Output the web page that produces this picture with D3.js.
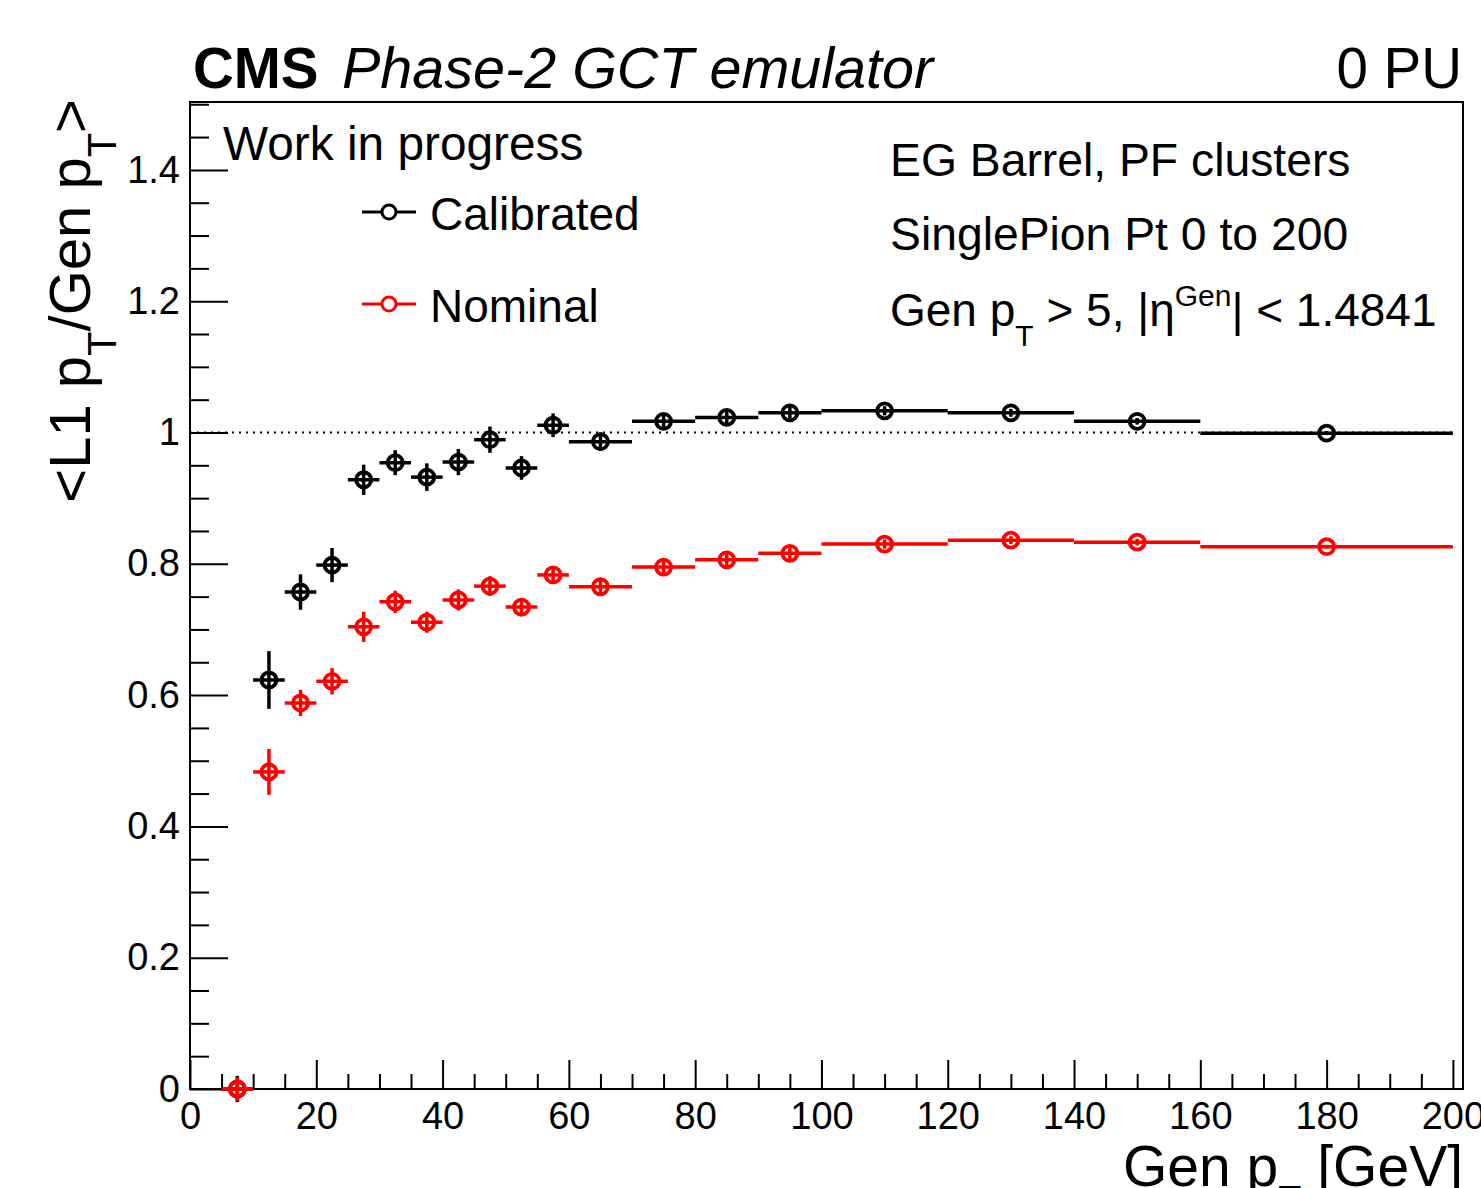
<!DOCTYPE html>
<html>
<head>
<meta charset="utf-8">
<script src="https://cdn.jsdelivr.net/npm/d3@7"></script>
<style>
  html, body { margin: 0; padding: 0; background: #fff; }
  svg { display: block; }
  text { font-family: "Liberation Sans", Arial, Helvetica, sans-serif; fill: #000; }
</style>
</head>
<body>
<svg id="chart" width="1481" height="1188"></svg>
<script>
// ---- data ----
const binLow  = [5, 10, 15, 20, 25, 30, 35, 40, 45, 50, 55, 60, 70, 80, 90, 100, 120, 140, 160];
const binHigh = [10, 15, 20, 25, 30, 35, 40, 45, 50, 55, 60, 70, 80, 90, 100, 120, 140, 160, 200];
const binCenter = [7.5, 12.5, 17.5, 22.5, 27.5, 32.5, 37.5, 42.5, 47.5, 52.5, 57.5, 65, 75, 85, 95, 110, 130, 150, 180];

const calibrated    = [0, 0.623, 0.757, 0.798, 0.928, 0.954, 0.932, 0.955, 0.989, 0.946, 1.011, 0.986, 1.017, 1.023, 1.030, 1.033, 1.030, 1.017, 0.999];
const calibratedErr = [0.02, 0.044, 0.027, 0.026, 0.023, 0.019, 0.021, 0.020, 0.020, 0.018, 0.018, 0.014, 0.011, 0.010, 0.009, 0.007, 0.006, 0.005, 0.003];
const nominal       = [0, 0.483, 0.588, 0.621, 0.704, 0.742, 0.711, 0.745, 0.766, 0.734, 0.783, 0.765, 0.795, 0.806, 0.816, 0.830, 0.836, 0.833, 0.826];
const nominalErr    = [0.018, 0.035, 0.020, 0.020, 0.023, 0.017, 0.016, 0.016, 0.015, 0.014, 0.013, 0.013, 0.011, 0.010, 0.009, 0.007, 0.006, 0.005, 0.003];

const xMajorTicks = [0, 20, 40, 60, 80, 100, 120, 140, 160, 180, 200];
const xTickLabels = ["0", "20", "40", "60", "80", "100", "120", "140", "160", "180", "200"];
const yMajorTicks = [0, 0.2, 0.4, 0.6, 0.8, 1.0, 1.2, 1.4];
const yTickLabels = ["0", "0.2", "0.4", "0.6", "0.8", "1", "1.2", "1.4"];

const seriesNames = ["Calibrated", "Nominal"];
const seriesColors = ["#000000", "#ff0000"];

// ---- layout ----
const L = 190, R = 1463, T = 102, B = 1089;
const x = d3.scaleLinear().domain([0, 201.6]).range([L, R]);
const y = d3.scaleLinear().domain([0, 1.5034]).range([B, T]);

const svg = d3.select("#chart");

// minor tick values
const xMinor = d3.range(0, 201, 5).filter(v => v % 20 !== 0);
const yMinor = d3.range(0, 1.5001, 0.05).map(v => +v.toFixed(2)).filter(v => Math.abs(v * 5 - Math.round(v * 5)) > 1e-6);

// axes
const gx = svg.append("g").attr("transform", `translate(0,${B})`);
gx.call(d3.axisBottom(x).tickValues(xMajorTicks).tickSize(-29).tickSizeOuter(0).tickPadding(13)
  .tickFormat((d, i) => xTickLabels[i]));
const gxm = svg.append("g").attr("transform", `translate(0,${B})`);
gxm.call(d3.axisBottom(x).tickValues(xMinor).tickSize(-15).tickSizeOuter(0).tickFormat(""));

const gy = svg.append("g").attr("transform", `translate(${L},0)`);
gy.call(d3.axisLeft(y).tickValues(yMajorTicks).tickSize(-38).tickSizeOuter(0).tickPadding(10)
  .tickFormat((d, i) => yTickLabels[i]));
const gym = svg.append("g").attr("transform", `translate(${L},0)`);
gym.call(d3.axisLeft(y).tickValues(yMinor).tickSize(-19).tickSizeOuter(0).tickFormat(""));

[gx, gxm, gy, gym].forEach(g => {
  g.select(".domain").remove();
  g.selectAll(".tick line").attr("stroke", "#000").attr("stroke-width", 2);
  g.selectAll(".tick text").style("font-size", "38px").attr("fill", "#000")
    .style("font-family", '"Liberation Sans", Arial, Helvetica, sans-serif');
});

// frame
svg.append("rect").attr("x", L).attr("y", T).attr("width", R - L).attr("height", B - T)
  .attr("fill", "none").attr("stroke", "#000").attr("stroke-width", 2);

// reference line at 1
svg.append("line").attr("x1", x(0)).attr("x2", x(200)).attr("y1", y(1)).attr("y2", y(1))
  .attr("stroke", "#000").attr("stroke-width", 2).attr("stroke-dasharray", "2,5");

// series
function drawSeries(vals, errs, color) {
  const g = svg.append("g");
  vals.forEach((v, i) => {
    g.append("line").attr("x1", x(binLow[i])).attr("x2", x(binHigh[i]))
      .attr("y1", y(v)).attr("y2", y(v)).attr("stroke", color).attr("stroke-width", 3.5);
    g.append("line").attr("x1", x(binCenter[i])).attr("x2", x(binCenter[i]))
      .attr("y1", y(v - errs[i])).attr("y2", y(v + errs[i])).attr("stroke", color).attr("stroke-width", 3.5);
    g.append("circle").attr("cx", x(binCenter[i])).attr("cy", y(v)).attr("r", 7.5)
      .attr("fill", "none").attr("stroke", color).attr("stroke-width", 3.8);
  });
}
drawSeries(calibrated, calibratedErr, seriesColors[0]);
drawSeries(nominal, nominalErr, seriesColors[1]);

// legend
const legY = [212, 304];
seriesNames.forEach((name, i) => {
  svg.append("line").attr("x1", 362).attr("x2", 416).attr("y1", legY[i]).attr("y2", legY[i])
    .attr("stroke", seriesColors[i]).attr("stroke-width", 3);
  svg.append("circle").attr("cx", 389).attr("cy", legY[i]).attr("r", 7)
    .attr("fill", "#fff").attr("stroke", seriesColors[i]).attr("stroke-width", 3);
  svg.append("text").attr("x", 430).attr("y", legY[i] + 18).style("font-size", "46px").text(name);
});

// header texts
svg.append("text").attr("x", 193).attr("y", 88).style("font-size", "56.5px").style("font-weight", "bold").text("CMS");
svg.append("text").attr("x", 342).attr("y", 88).style("font-size", "57.5px").style("font-style", "italic").text("Phase-2 GCT emulator");
svg.append("text").attr("x", 1462).attr("y", 88).attr("text-anchor", "end").style("font-size", "56.5px").text("0 PU");

svg.append("text").attr("x", 223).attr("y", 160).style("font-size", "47.8px").text("Work in progress");

svg.append("text").attr("x", 890).attr("y", 176).style("font-size", "46.3px").text("EG Barrel, PF clusters");
svg.append("text").attr("x", 890).attr("y", 250).style("font-size", "46.3px").text("SinglePion Pt 0 to 200");
const t3 = svg.append("text").attr("x", 890).attr("y", 326).style("font-size", "46px");
t3.append("tspan").text("Gen p");
t3.append("tspan").attr("dy", 20).style("font-size", "30px").text("T");
t3.append("tspan").attr("dy", -20).text(" > 5, |η");
t3.append("tspan").attr("dy", -20).style("font-size", "30px").text("Gen");
t3.append("tspan").attr("dy", 20).text("| < 1.4841");

// axis titles
const xt = svg.append("text").attr("x", 1463).attr("y", 1186).attr("text-anchor", "end").style("font-size", "57px");
xt.append("tspan").text("Gen p");
xt.append("tspan").attr("dy", 27).style("font-size", "38px").text("T");
xt.append("tspan").attr("dy", -27).text(" [GeV]");

const yt = svg.append("text").attr("transform", "translate(90,99) rotate(-90)")
  .attr("text-anchor", "end").style("font-size", "58px");
yt.append("tspan").text("<L1 p");
yt.append("tspan").attr("dy", 26).style("font-size", "40px").text("T");
yt.append("tspan").attr("dy", -26).text("/Gen p");
yt.append("tspan").attr("dy", 26).style("font-size", "40px").text("T");
yt.append("tspan").attr("dy", -26).text(">");
</script>
</body>
</html>
